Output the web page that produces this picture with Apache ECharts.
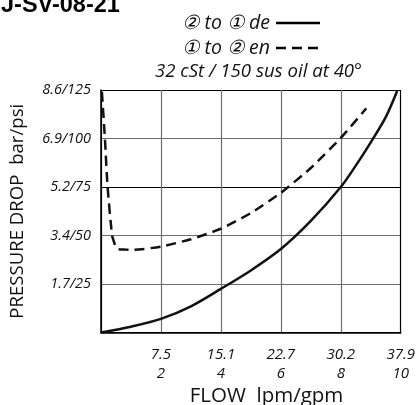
<!DOCTYPE html>
<html><head><meta charset="utf-8">
<script src="https://cdn.jsdelivr.net/npm/echarts@6/dist/echarts.min.js"></script>
<style>html,body{margin:0;padding:0;background:#fff}#c{width:418px;height:405px}</style>
</head><body><div id="c"></div>
<script>
// Data (x in gpm, y in psi)
const gpmTicks = [0, 2, 4, 6, 8, 10];
const lpmLabels = ['', '7.5', '15.1', '22.7', '30.2', '37.9'];
const gpmLabels = ['', '2', '4', '6', '8', '10'];
const psiTicks = [0, 25, 50, 75, 100, 125];
const yLabels = ['', '1.7/25', '3.4/50', '5.2/75', '6.9/100', '8.6/125'];

const solidX = [0, 1, 2, 3, 4, 5, 6, 7, 8, 8.5, 9, 9.5, 9.88];
const solidY = [0, 3, 7, 13.5, 22.5, 32, 43, 57.5, 75, 86, 98, 111, 124.5];

const dashX = [0.03, 0.13, 0.22, 0.37, 0.45, 0.52, 0.8, 1.07, 2, 3, 4, 5, 6, 7, 8, 8.85];
const dashY = [124, 100, 75, 50, 46, 43.2, 42.8, 42.6, 44.3, 48.1, 53.5, 61.6, 72, 84.8, 100.3, 115.5];

const title = 'J-SV-08-21';
const legend1 = '② to ① de';
const legend2 = '① to ② en';
const note = '32 cSt / 150 sus oil at 40°';
const xName = 'FLOW  lpm/gpm';
const yName = 'PRESSURE DROP  bar/psi';

const ff = '"Open Sans", sans-serif';
const G = '#6e6e6e';
const chart = echarts.init(document.getElementById('c'), null, {renderer: 'canvas'});
chart.setOption({
  animation: false,
  backgroundColor: '#fff',
  grid: {left: 101, right: 15, top: 90, bottom: 72.5},
  xAxis: {
    type: 'value', min: 0, max: 10, interval: 2,
    axisLine: {show: true, lineStyle: {color: '#000', width: 1.5}},
    axisTick: {show: false},
    splitLine: {show: true, lineStyle: {color: ['#000', G, G, G, G, '#000'], width: 1.2, type: 'solid'}},
    axisLabel: {
      fontFamily: ff, fontStyle: 'italic', fontSize: 15, color: '#111', lineHeight: 18.5, margin: 13,
      formatter: v => { const i = gpmTicks.indexOf(v); return i > 0 ? lpmLabels[i] + '\n' + gpmLabels[i] : ''; }
    }
  },
  yAxis: {
    type: 'value', min: 0, max: 125, interval: 25,
    name: yName, nameLocation: 'middle', nameGap: 74, nameRotate: 90,
    nameTextStyle: {fontFamily: ff, fontSize: 18.6, color: '#111'},
    axisLine: {show: true, lineStyle: {color: '#000', width: 1.5}},
    axisTick: {show: false},
    splitLine: {show: true, lineStyle: {color: ['#000', G, G, '#000', G, '#000'], width: 1.2, type: 'solid'}},
    axisLabel: {
      fontFamily: ff, fontStyle: 'italic', fontSize: 14.5, color: '#111', margin: 10,
      formatter: v => { const i = psiTicks.indexOf(v); return i > 0 ? yLabels[i] : ''; }
    }
  },
  graphic: [
    {type: 'text', left: 1, top: -6, style: {text: title, font: 'bold 23.5px "Liberation Sans", Arial, sans-serif', fill: '#000'}},
    {type: 'text', x: 270, y: 23, style: {text: legend1, font: 'italic 19.5px ' + ff, fill: '#111', align: 'right', verticalAlign: 'middle'}},
    {type: 'text', x: 270, y: 48, style: {text: legend2, font: 'italic 19.5px ' + ff, fill: '#111', align: 'right', verticalAlign: 'middle'}},
    {type: 'line', shape: {x1: 276, y1: 23, x2: 320, y2: 23}, style: {stroke: '#000', lineWidth: 2.5}},
    {type: 'line', shape: {x1: 276, y1: 48, x2: 318, y2: 48}, style: {stroke: '#000', lineWidth: 2.5, lineDash: [10, 6]}},
    {type: 'text', x: 258.5, y: 72, style: {text: note, font: 'italic 18.6px ' + ff, fill: '#111', align: 'center', verticalAlign: 'middle'}},
    {type: 'text', x: 266.5, y: 396, style: {text: xName, font: '20.5px ' + ff, fill: '#111', align: 'center', verticalAlign: 'middle'}}
  ],
  series: [
    {
      type: 'line', data: solidX.map((x, i) => [x, solidY[i]]), smooth: 0.3, symbol: 'none',
      lineStyle: {color: '#111', width: 2.5}
    },
    {
      type: 'line', data: dashX.map((x, i) => [x, dashY[i]]), smooth: 0.2, symbol: 'none',
      lineStyle: {color: '#111', width: 2.5, type: [10, 6]}
    }
  ]
});
</script></body></html>
